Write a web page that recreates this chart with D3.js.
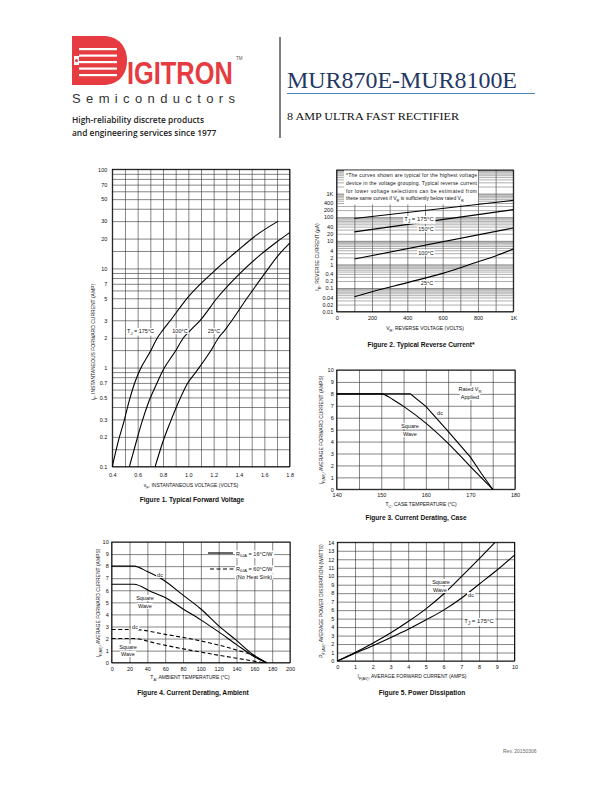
<!DOCTYPE html>
<html>
<head>
<meta charset="utf-8">
<script src="https://cdn.jsdelivr.net/npm/d3@7"></script>
<style>
  body { margin: 0; background: #fff; }
  svg { display: block; }
  text { font-family: "Liberation Sans", Arial, sans-serif; fill: #111; }
</style>
</head>
<body>
<svg id="page" width="612" height="792"></svg>
<script>
// ---- figure 1: forward voltage (V, A)
const fwdXTicks = [0.4, 0.6, 0.8, 1.0, 1.2, 1.4, 1.6, 1.8];
const fwdYTicks = [0.1, 0.2, 0.3, 0.5, 0.7, 1, 2, 3, 5, 7, 10, 20, 30, 50, 70, 100];
const fwd175 = [[0.4, 0.1], [0.45, 0.186], [0.49, 0.28], [0.535, 0.47], [0.575, 0.69], [0.615, 0.93],
  [0.7, 1.45], [0.756, 2.0], [0.8, 2.4], [0.86, 3.0], [0.99, 5.0], [1.2, 9.3], [1.38, 14.8], [1.54, 21.8], [1.71, 30]];
const fwd100 = [[0.535, 0.1], [0.593, 0.186], [0.633, 0.28], [0.693, 0.47], [0.751, 0.69], [0.798, 0.93],
  [0.896, 1.45], [0.962, 2.0], [1.02, 2.4], [1.094, 3.0], [1.226, 5.0], [1.384, 8.3], [1.568, 13.7], [1.7, 18.6], [1.8, 23]];
const fwd25 = [[0.738, 0.1], [0.804, 0.186], [0.857, 0.28], [0.93, 0.47], [0.993, 0.69], [1.068, 0.93],
  [1.173, 1.45], [1.239, 2.0], [1.29, 2.4], [1.345, 3.0], [1.463, 5.0], [1.595, 8.6], [1.713, 13.7], [1.8, 18]];

// ---- figure 2: reverse current (V, uA)
const revXTicks = [0, 200, 400, 600, 800, 1000];
const revYTicks = [1000, 400, 200, 100, 40, 20, 10, 4, 2, 1, 0.4, 0.2, 0.1, 0.04, 0.02, 0.01];
const rev175 = [[100, 88], [1000, 520]];
const rev150 = [[100, 24], [1000, 210]];
const rev100 = [[100, 1.7], [1000, 35]];
const rev25 = [[100, 0.043], [200, 0.07], [400, 0.17], [600, 0.42], [800, 1.3], [900, 2.3], [1000, 4.5]];
const revNote = [
  "*The curves shown are typical for the highest voltage",
  "device in the voltage grouping. Typical reverse current",
  "for lower voltage selections can be estimated from",
  "these same curves if V_{R} is sufficiently below rated V_{R}"
];

// ---- figure 3: derating, case (degC, A)
const caseXTicks = [140, 150, 160, 170, 180];
const caseYTicks = [0, 1, 2, 3, 4, 5, 6, 7, 8, 9, 10];
const caseSquare = [[140, 8], [150, 8], [152.5, 7.55], [155, 6.95], [160, 5.55], [165, 3.85], [170, 1.9], [175, 0]];
const caseDc = [[140, 8], [156.5, 8], [160, 6.95], [165, 4.85], [170, 2.7], [172.5, 1.3], [175, 0]];

// ---- figure 4: derating, ambient (degC, A)
const ambXTicks = [0, 20, 40, 60, 80, 100, 120, 140, 160, 180, 200];
const ambYTicks = [0, 1, 2, 3, 4, 5, 6, 7, 8, 9, 10];
const ambDc16 = [[0, 8], [25, 8], [40, 7.55], [58, 6.85], [80, 5.6], [100, 4.45], [120, 3.05], [140, 1.85], [158, 0.7], [174, 0]];
const ambSq16 = [[0, 6.5], [25, 6.5], [45, 5.85], [60, 5.4], [80, 4.45], [100, 3.55], [120, 2.55], [140, 1.5], [160, 0.5], [174, 0]];
const ambDc60 = [[0, 2.75], [25, 2.75], [60, 2.35], [100, 1.8], [140, 1.05], [160, 0.55], [172, 0]];
const ambSq60 = [[0, 2.0], [25, 2.0], [50, 1.6], [80, 1.15], [120, 0.62], [150, 0.25], [170, 0]];

// ---- figure 5: power dissipation (A, W)
const pwrXTicks = [0, 1, 2, 3, 4, 5, 6, 7, 8, 9, 10];
const pwrYTicks = [0, 1, 2, 3, 4, 5, 6, 7, 8, 9, 10, 11, 12, 13, 14];
const pwrSquare = [[0, 0], [1, 1.0], [2, 2.1], [3, 3.3], [4, 4.65], [5, 6.15], [6, 7.9], [7, 9.95], [8, 12.05], [8.9, 14]];
const pwrDc = [[0, 0], [1, 0.9], [2, 1.8], [3, 2.75], [4, 3.75], [5, 4.85], [6, 6.0], [7, 7.4], [8, 9.05], [9, 10.7], [10, 12.5]];

const RED = "#e63b41";
const svg = d3.select("#page");

// text with "_{..}" subscripts, optional white box behind it
const label = (g, x, y, str, o = {}) => {
  const size = o.size || 5.5;
  const t = g.append("text")
    .attr("x", x)
    .attr("y", y)
    .attr("font-size", size)
    .attr("text-anchor", o.anchor || "middle")
    .attr("font-weight", o.bold ? "bold" : null);
  if (o.rotate) t.attr("transform", `rotate(-90 ${x} ${y})`);
  const sh = size * 0.3;
  let down = false;
  str.split(/(_\{[^}]*\})/).filter((s) => s.length).forEach((p) => {
    if (p.startsWith("_{")) {
      t.append("tspan").attr("dy", sh).attr("font-size", size * 0.75).text(p.slice(2, -1));
      down = true;
    } else {
      t.append("tspan").attr("dy", down ? -sh : null).text(p);
      down = false;
    }
  });
  if (o.bg) {
    const b = t.node().getBBox();
    g.insert("rect", () => t.node())
      .attr("x", b.x - 1).attr("y", b.y)
      .attr("width", b.width + 2).attr("height", b.height)
      .attr("fill", "#fff");
  }
  return t;
};

const logGrid = (lo, hi, mant) => {
  const out = [];
  for (let d = lo; d < hi * 0.999; d *= 10) mant.forEach((m) => out.push(d * m));
  out.push(hi);
  return out;
};

const chart = (cfg) => {
  const g = svg.append("g");
  const { x, y } = cfg;
  const [x0, x1] = x.range();
  const [y0, y1] = y.range();

  g.append("g")
    .attr("transform", "translate(0," + y0 + ")")
    .call(d3.axisBottom(x).tickValues(cfg.xGrid).tickSize(-(y0 - y1)).tickFormat(""))
    .call((a) => a.select(".domain").remove())
    .selectAll("line").attr("stroke", "#333").attr("stroke-width", 0.6);

  g.append("g")
    .attr("transform", "translate(" + x0 + ",0)")
    .call(d3.axisLeft(y).tickValues(cfg.yGrid).tickSize(-(x1 - x0)).tickFormat(""))
    .call((a) => a.select(".domain").remove())
    .selectAll("line")
    .attr("stroke", (d) => (cfg.yMajor && !cfg.yMajor(d) ? "#777" : "#333"))
    .attr("stroke-width", 0.6);

  g.append("rect")
    .attr("x", x0).attr("y", y1)
    .attr("width", x1 - x0).attr("height", y0 - y1)
    .attr("fill", "none").attr("stroke", "#000").attr("stroke-width", 0.9);

  g.append("g")
    .attr("transform", "translate(0," + y0 + ")")
    .call(d3.axisBottom(x).tickValues(cfg.xTicks).tickFormat(cfg.xFmt || String).tickSize(0).tickPadding(cfg.xPad || 4))
    .call((a) => a.select(".domain").remove())
    .selectAll("text").attr("font-size", 5.5).attr("font-family", "Liberation Sans, Arial, sans-serif").attr("fill", "#111");

  g.append("g")
    .attr("transform", "translate(" + x0 + ",0)")
    .call(d3.axisLeft(y).tickValues(cfg.yTicks).tickFormat(cfg.yFmt || String).tickSize(0).tickPadding(cfg.yPad || 4))
    .call((a) => a.select(".domain").remove())
    .selectAll("text").attr("font-size", 5.5).attr("font-family", "Liberation Sans, Arial, sans-serif").attr("fill", "#111");

  label(g, cfg.xLabel[1], cfg.xLabel[2], cfg.xLabel[0], { size: 5 });
  label(g, cfg.yLabel[1], cfg.yLabel[2], cfg.yLabel[0], { size: 5, rotate: true });
  label(g, cfg.title[1], cfg.title[2], cfg.title[0], { size: 6.6, bold: true });
  return g;
};

const curve = (g, x, y, pts, dash, kind) =>
  g.append("path")
    .datum(pts)
    .attr("fill", "none")
    .attr("stroke", "#000")
    .attr("stroke-width", 1.1)
    .attr("stroke-dasharray", dash || null)
    .attr("d", d3.line().x((d) => x(d[0])).y((d) => y(d[1])).curve(kind || d3.curveMonotoneX));

// ================= header
const head = svg.append("g");
head.append("path")
  .attr("d", "M72,36 H103 C118,36 127,46 127,60.5 C127,75 118,85 103,85 H72 Z")
  .attr("fill", RED);
[48, 54.5, 61, 67.5, 74].forEach((yy) => {
  head.append("rect").attr("x", 79).attr("y", yy).attr("width", 38).attr("height", 2.2).attr("fill", "#fff");
});
head.append("rect").attr("x", 74).attr("y", 56).attr("width", 5).attr("height", 9).attr("fill", "#fff");
head.append("circle").attr("cx", 76.5).attr("cy", 60.5).attr("r", 1.6).attr("fill", RED);
// logo word: natural width, stretched vertically
head.append("text")
  .attr("x", 0).attr("y", 0)
  .attr("transform", "translate(127,84) scale(1,1.2)")
  .attr("font-size", 25.4).attr("font-weight", "bold")
  .style("fill", RED).text("IGITRON");
head.append("text").attr("x", 236).attr("y", 60).attr("font-size", 4.5).style("fill", "#555").text("TM");
head.append("text")
  .attr("x", 72).attr("y", 102.5)
  .attr("font-size", 13)
  .attr("textLength", 163).attr("lengthAdjust", "spacing")
  .style("fill", "#333")
  .text("Semiconductors");
head.append("text").attr("x", 72).attr("y", 123).attr("font-size", 8.4)
  .style("font-family", "'Open Sans', sans-serif").style("font-weight", 600).style("fill", "#222")
  .text("High-reliability discrete products");
head.append("text").attr("x", 72).attr("y", 135.5).attr("font-size", 8.4)
  .style("font-family", "'Open Sans', sans-serif").style("font-weight", 600).style("fill", "#222")
  .text("and engineering services since 1977");
head.append("line").attr("x1", 280).attr("x2", 280).attr("y1", 37).attr("y2", 138)
  .attr("stroke", "#000").attr("stroke-width", 1);
head.append("text")
  .attr("x", 287).attr("y", 88)
  .attr("font-size", 22.5)
  .attr("textLength", 230).attr("lengthAdjust", "spacingAndGlyphs")
  .style("font-family", "'Liberation Serif', serif").style("fill", "#1f3864")
  .text("MUR870E-MUR8100E");
head.append("line").attr("x1", 287).attr("x2", 535).attr("y1", 93.5).attr("y2", 93.5)
  .attr("stroke", "#4f81bd").attr("stroke-width", 1);
head.append("text")
  .attr("x", 287).attr("y", 120)
  .attr("font-size", 11)
  .attr("textLength", 172).attr("lengthAdjust", "spacingAndGlyphs")
  .style("font-family", "'Liberation Serif', serif").style("fill", "#111")
  .text("8 AMP ULTRA FAST RECTIFIER");

// ================= figure 1
{
  const x = d3.scaleLinear().domain([0.4, 1.8]).range([112.3, 289.7]);
  const y = d3.scaleLog().domain([0.1, 100]).range([466.7, 169.3]);
  const g = chart({
    x, y,
    xGrid: d3.range(4, 19).map((v) => v / 10),
    yGrid: logGrid(0.1, 100, [1, 1.5, 2, 3, 4, 5, 6, 7, 8, 9]),
    xTicks: fwdXTicks, xFmt: d3.format(".1f"), xPad: 6,
    yTicks: fwdYTicks, yPad: 5,
    xLabel: ["v_{F}, INSTANTANEOUS VOLTAGE (VOLTS)", 191, 487],
    yLabel: ["i_{F}, INSTANTANEOUS FORWARD CURRENT (AMP)", 95, 342],
    title: ["Figure 1. Typical Forward Voltage", 192, 501.5]
  });
  [fwd175, fwd100, fwd25].forEach((s) => curve(g, x, y, s));
  label(g, 127, 333, "T_{J} = 175°C", { anchor: "start", bg: true });
  label(g, 180, 333, "100°C", { bg: true });
  label(g, 214, 333, "25°C", { bg: true });
}

// ================= figure 2
{
  const x = d3.scaleLinear().domain([0, 1000]).range([336.7, 513.3]);
  const y = d3.scaleLog().domain([0.01, 10000]).range([311.7, 170]);
  const g = chart({
    x, y,
    xGrid: d3.range(0, 1001, 100),
    yGrid: logGrid(0.01, 10000, [1, 2, 3, 4, 5, 6, 7, 8, 9]),
    yMajor: (d) => Math.abs(Math.log10(d) - Math.round(Math.log10(d))) < 1e-6,
    xTicks: revXTicks, xFmt: (d) => (d >= 1000 ? d / 1000 + "K" : d), xPad: 4,
    yTicks: revYTicks, yFmt: (d) => (d >= 1000 ? d / 1000 + "K" : d), yPad: 3.5,
    xLabel: ["V_{R}, REVERSE VOLTAGE (VOLTS)", 425, 330],
    yLabel: ["I_{R}, REVERSE CURRENT (μA)", 319, 257],
    title: ["Figure 2. Typical Reverse Current*", 421, 347]
  });
  g.append("rect").attr("x", 344).attr("y", 170.5).attr("width", 134).attr("height", 34).attr("fill", "#fff");
  revNote.forEach((line, i) => {
    const t = label(g, 346, 177 + i * 7.8, line, { size: 5, anchor: "start" });
    if (i < 3) t.attr("textLength", 131).attr("lengthAdjust", "spacing");
  });
  [rev175, rev150, rev100].forEach((s) => curve(g, x, y, s, null, d3.curveLinear));
  curve(g, x, y, rev25);
  label(g, 419, 221, "T_{J} = 175°C", { bg: true, size: 6 });
  label(g, 426, 231, "150°C", { bg: true });
  label(g, 426, 254.5, "100°C", { bg: true });
  label(g, 427, 285, "25°C", { bg: true });
}

// ================= figure 3
{
  const x = d3.scaleLinear().domain([140, 180]).range([336.7, 515]);
  const y = d3.scaleLinear().domain([0, 10]).range([489.3, 370]);
  const g = chart({
    x, y,
    xGrid: d3.range(140, 181, 5),
    yGrid: caseYTicks,
    xTicks: caseXTicks, xPad: 4,
    yTicks: caseYTicks, yPad: 3,
    xLabel: ["T_{C}, CASE TEMPERATURE (°C)", 421, 506],
    yLabel: ["I_{F(AV)}, AVERAGE FORWARD CURRENT (AMPS)", 323, 430],
    title: ["Figure 3. Current Derating, Case", 416, 520]
  });
  curve(g, x, y, caseSquare);
  curve(g, x, y, caseDc, null, d3.curveLinear);
  label(g, 470, 391, "Rated V_{R}", { bg: true });
  label(g, 470, 399, "Applied", { bg: true });
  label(g, 440, 415, "dc", { bg: true });
  label(g, 410, 428, "Square", { bg: true });
  label(g, 410, 436, "Wave", { bg: true });
}

// ================= figure 4
{
  const x = d3.scaleLinear().domain([0, 200]).range([111.7, 290]);
  const y = d3.scaleLinear().domain([0, 10]).range([662.7, 542]);
  const g = chart({
    x, y,
    xGrid: ambXTicks,
    yGrid: ambYTicks,
    xTicks: ambXTicks, xPad: 4,
    yTicks: ambYTicks, yPad: 3,
    xLabel: ["T_{A}, AMBIENT TEMPERATURE (°C)", 190, 679],
    yLabel: ["I_{F(AV)}, AVERAGE FORWARD CURRENT (AMPS)", 100, 603],
    title: ["Figure 4. Current Derating, Ambient", 193, 695]
  });
  curve(g, x, y, ambDc16);
  curve(g, x, y, ambSq16);
  curve(g, x, y, ambDc60, "4,2.5");
  curve(g, x, y, ambSq60, "4,2.5");
  // legend
  label(g, 236, 555.5, "R_{θJA} = 16°C/W", { anchor: "start", bg: true });
  g.append("line").attr("x1", 208).attr("x2", 233).attr("y1", 553).attr("y2", 553)
    .attr("stroke", "#000").attr("stroke-width", 1.2);
  label(g, 236, 570.5, "R_{θJA} = 60°C/W", { anchor: "start", bg: true });
  label(g, 236, 578.5, "(No Heat Sink)", { anchor: "start", bg: true });
  g.append("line").attr("x1", 210).attr("x2", 234).attr("y1", 569).attr("y2", 569)
    .attr("stroke", "#000").attr("stroke-width", 1.1).attr("stroke-dasharray", "4,2.5");
  label(g, 160, 577, "dc", { bg: true });
  label(g, 145, 600, "Square", { bg: true });
  label(g, 145, 608, "Wave", { bg: true });
  label(g, 135, 629, "dc", { bg: true });
  label(g, 128, 649, "Square", { bg: true });
  label(g, 128, 656, "Wave", { bg: true });
}

// ================= figure 5
{
  const x = d3.scaleLinear().domain([0, 10]).range([337.3, 514.5]);
  const y = d3.scaleLinear().domain([0, 14]).range([661, 542.3]);
  const g = chart({
    x, y,
    xGrid: pwrXTicks,
    yGrid: pwrYTicks,
    xTicks: pwrXTicks, xPad: 4,
    yTicks: pwrYTicks, yPad: 3,
    xLabel: ["I_{F(AV)}, AVERAGE FORWARD CURRENT (AMPS)", 412, 678],
    yLabel: ["P_{F(AV)}, AVERAGE POWER DISSIPATION (WATTS)", 323, 601],
    title: ["Figure 5. Power Dissipation", 422, 695]
  });
  curve(g, x, y, pwrSquare);
  curve(g, x, y, pwrDc);
  label(g, 441, 584, "Square", { bg: true });
  label(g, 440, 592, "Wave", { bg: true });
  label(g, 471, 597, "dc", { bg: true });
  label(g, 479, 623, "T_{J} = 175°C", { bg: true, size: 6 });
}

svg.append("text").attr("x", 503).attr("y", 753).attr("font-size", 5)
  .style("fill", "#666").text("Rev. 20150306");
</script>
</body>
</html>
